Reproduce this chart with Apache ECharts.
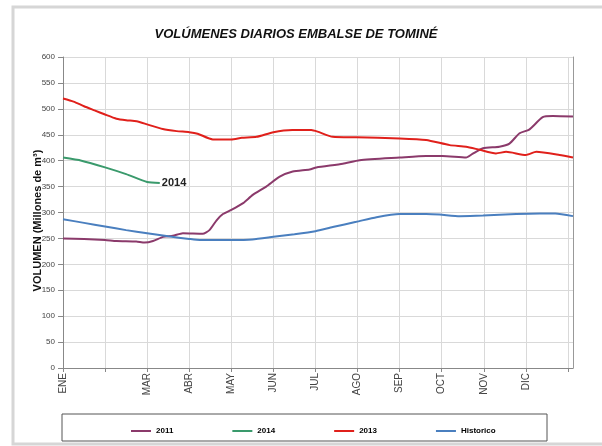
<!DOCTYPE html>
<html>
<head>
<meta charset="utf-8">
<script src="https://cdn.jsdelivr.net/npm/echarts@6/dist/echarts.min.js"></script>
<style>html,body{margin:0;padding:0;background:#fff;}#c{width:602px;height:446px;}</style>
</head>
<body>
<div id="c"></div>
<script>
// x positions are in months from 1 January (0 = ENE, 1 = FEB, ...)
var monthLabels = ['ENE', '', 'MAR', 'ABR', 'MAY', 'JUN', 'JUL', 'AGO', 'SEP', 'OCT', 'NOV', 'DIC', ''];
var yTicks = [0, 50, 100, 150, 200, 250, 300, 350, 400, 450, 500, 550, 600];

var x2011 = [0, 0.5, 1.0, 1.27, 1.74, 1.94, 2.14, 2.38, 2.61, 2.85, 3.32, 3.48, 3.65, 3.8, 4.0, 4.28, 4.51, 4.83, 5.15, 5.46, 5.86, 6.02, 6.65, 7.05, 8.0, 8.63, 9.02, 9.58, 9.73, 9.98, 10.37, 10.61, 10.85, 11.08, 11.4, 11.64, 12.12];
var v2011 = [250, 249, 247, 245, 244, 242, 245, 253, 255, 260, 259, 266, 285, 297, 305, 318, 334, 350, 369, 379, 383, 387, 394, 401, 406, 409, 409, 406, 413, 424, 427, 433, 453, 460, 484, 486, 485];

var x2014 = [0, 0.44, 1.0, 1.5, 2.0, 2.3];
var v2014 = [406, 400, 387, 374, 359, 357];

var x2013 = [0, 0.25, 0.5, 0.75, 1.0, 1.27, 1.5, 1.75, 2.0, 2.37, 2.7, 3.0, 3.2, 3.56, 4.0, 4.25, 4.6, 5.0, 5.45, 5.9, 6.05, 6.41, 6.97, 8.0, 8.63, 9.19, 9.58, 9.9, 10.29, 10.53, 11.0, 11.25, 11.8, 12.12];
var v2013 = [520, 514, 505, 497, 489, 481, 478, 476, 470, 461, 457, 455, 452, 441, 441, 444, 446, 455, 459, 459, 456, 446, 445, 443, 440, 430, 427, 421, 414, 417, 411, 417, 411, 406];

var xHist = [0, 0.5, 1.0, 1.5, 2.0, 2.5, 3.0, 3.25, 4.0, 4.5, 5.0, 5.5, 6.0, 6.41, 6.97, 7.45, 8.0, 8.63, 8.95, 9.43, 9.98, 10.77, 11.33, 11.7, 12.12];
var vHist = [287, 280, 273, 266, 260, 254, 249, 247, 247, 248, 253, 258, 264, 272, 282, 291, 297, 297, 296, 293, 294, 297, 298, 298, 293];

function pairs(xs, vs) { return xs.map(function (x, i) { return [x, vs[i]]; }); }

var FONT = 'Liberation Sans, Arial, sans-serif';
var chart = echarts.init(document.getElementById('c'), null, { renderer: 'canvas' });
var xMax = 12.12;

chart.setOption({
  animation: false,
  backgroundColor: '#fff',
  title: {
    text: 'VOLÚMENES DIARIOS EMBALSE DE TOMINÉ',
    left: 291, top: 23, textAlign: 'center',
    textStyle: { fontFamily: FONT, fontSize: 13, fontWeight: 'bold', fontStyle: 'italic', color: '#111' }
  },
  graphic: [
    { type: 'rect', shape: { x: 13, y: 7, width: 640, height: 437 }, style: { fill: 'none', stroke: '#d6d6d6', lineWidth: 3 }, z: 0 },
    { type: 'rect', shape: { x: 62, y: 414, width: 485, height: 27 }, style: { fill: 'none', stroke: '#555', lineWidth: 1 }, z: 1 }
  ],
  legend: {
    left: 126, top: 422, itemGap: 59, icon: 'rect', itemWidth: 20, itemHeight: 2,
    textStyle: { fontFamily: FONT, fontSize: 8, fontWeight: 'bold', color: '#000' },
    data: ['2011', '2014', '2013', 'Historico']
  },
  grid: { left: 63, right: 29, top: 57, bottom: 78 },
  xAxis: {
    type: 'value', min: 0, max: xMax, interval: 1,
    axisLine: { show: true, lineStyle: { color: '#888' } },
    axisTick: { show: true, length: 4, lineStyle: { color: '#888' } },
    splitLine: { show: true, lineStyle: { color: '#d9d9d9' } },
    axisLabel: {
      rotate: 90, margin: 5, fontFamily: FONT, fontSize: 10, color: '#444',
      showMaxLabel: false,
      formatter: function (v) { var i = Math.round(v); return Math.abs(v - i) < 1e-6 ? (monthLabels[i] || '') : ''; }
    }
  },
  yAxis: [{
    type: 'value', min: yTicks[0], max: yTicks[yTicks.length - 1], interval: yTicks[1] - yTicks[0],
    name: 'VOLUMEN (Millones de m³)', nameLocation: 'middle', nameGap: 20, nameMoveOverlap: false,
    nameTextStyle: { fontFamily: FONT, fontSize: 11, fontWeight: 'bold', color: '#111', padding: [0, 16, 0, 0] },
    axisLine: { show: true, lineStyle: { color: '#888' } },
    axisTick: { show: true, length: 5, lineStyle: { color: '#888' } },
    splitLine: { show: true, lineStyle: { color: '#d9d9d9' } },
    axisLabel: { margin: 8, fontFamily: FONT, fontSize: 8, color: '#444' }
  }, {
    type: 'value', position: 'right', min: 0, max: 600,
    axisLine: { show: true, lineStyle: { color: '#999' } },
    axisTick: { show: false }, axisLabel: { show: false }, splitLine: { show: false }
  }],
  series: [
    { name: '2011', type: 'line', data: pairs(x2011, v2011), showSymbol: false, smooth: 0.2,
      lineStyle: { width: 2, color: '#8b3a6b' }, itemStyle: { color: '#8b3a6b' } },
    { name: '2014', type: 'line', data: pairs(x2014, v2014), showSymbol: false, smooth: 0.2,
      lineStyle: { width: 2, color: '#3a9a6c' }, itemStyle: { color: '#3a9a6c' },
      endLabel: { show: true, formatter: '2014', distance: 2, fontFamily: FONT, fontSize: 11, fontWeight: 'bold', color: '#222' } },
    { name: '2013', type: 'line', data: pairs(x2013, v2013), showSymbol: false, smooth: 0.2,
      lineStyle: { width: 2, color: '#e0201b' }, itemStyle: { color: '#e0201b' } },
    { name: 'Historico', type: 'line', data: pairs(xHist, vHist), showSymbol: false, smooth: 0.2,
      lineStyle: { width: 2, color: '#4a7fbf' }, itemStyle: { color: '#4a7fbf' } }
  ]
});
</script>
</body>
</html>
